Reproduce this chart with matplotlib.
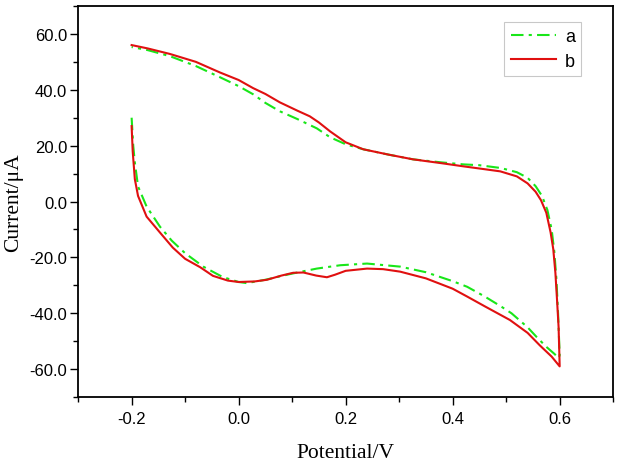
import matplotlib
matplotlib.use("Agg")
import matplotlib.pyplot as plt
from matplotlib.ticker import MultipleLocator, FormatStrFormatter

# Curve a (green, dash-dot): lower branch -0.2 -> 0.6, then upper branch 0.6 -> -0.2
a_potential = [-0.2, -0.197, -0.194, -0.188, -0.172, -0.147, -0.125, -0.1, -0.066, -0.03,
               0.0, 0.015, 0.05, 0.09, 0.12, 0.146, 0.19, 0.24, 0.302, 0.35, 0.4, 0.427,
               0.46, 0.49, 0.51, 0.54, 0.557, 0.575, 0.59, 0.598,
               0.6, 0.597, 0.594, 0.59, 0.585, 0.577, 0.567, 0.555, 0.54, 0.52, 0.49, 0.45,
               0.42, 0.38, 0.326, 0.28, 0.233, 0.2, 0.171, 0.146, 0.11, 0.077, 0.05, 0.027,
               0.0, -0.035, -0.08, -0.128, -0.17, -0.2]
a_current = [30, 20, 14, 5.4, -1.8, -9, -14, -18.5, -23.3, -27,
             -28.8, -29.2, -28, -26.2, -25, -24, -22.8, -22.2, -23.3, -25.3, -28.5, -30.5,
             -34, -37.5, -40, -45, -48.5, -52, -54.5, -56,
             -55, -40, -28, -18, -10, -3, 2, 5.5, 8.5, 10.5, 12, 13,
             13.3, 14, 15.1, 16.8, 18.7, 20.5, 23, 26.2, 29.5, 32.3, 35.3, 38.4,
             41.3, 44.5, 48.5, 52, 54.2, 55.3]

# Curve b (red, solid)
b_potential = [-0.2, -0.198, -0.194, -0.188, -0.172, -0.147, -0.123, -0.1, -0.072, -0.048,
               -0.02, 0.0, 0.03, 0.053, 0.08, 0.102, 0.121, 0.145, 0.165, 0.18, 0.2, 0.24,
               0.27, 0.302, 0.35, 0.4, 0.427, 0.46, 0.507, 0.54, 0.563, 0.585, 0.6,
               0.598, 0.595, 0.592, 0.588, 0.583, 0.575, 0.565, 0.555, 0.54, 0.52, 0.489,
               0.451, 0.42, 0.38, 0.326, 0.28, 0.233, 0.2, 0.171, 0.15, 0.133, 0.11, 0.077,
               0.05, 0.027, 0.0, -0.035, -0.08, -0.128, -0.17, -0.2]
b_current = [27, 18, 8, 2, -5.4, -11.1, -16.5, -20.5, -23.5, -26.6,
             -28.3, -28.8, -28.6, -28, -26.5, -25.5, -25.4, -26.5, -27.1, -26.2, -24.8, -24,
             -24.2, -25.1, -27.5, -31.2, -34, -37.5, -42.4, -47, -51.5, -55.5, -59,
             -45, -35, -25.5, -17, -11, -4, 0.5, 3.5, 6.5, 9, 10.8,
             11.8, 12.6, 13.7, 15.1, 16.8, 18.7, 21.2, 25.1, 28.3, 30.5, 32.5, 35.5,
             38.5, 40.6, 43.5, 46.2, 50, 52.8, 54.8, 56]

labels = ["a", "b"]
x_label = "Potential/V"
y_label = "Current/\u03bcA"

fig = plt.figure(figsize=(6.2, 4.64), dpi=100)
ax = fig.add_axes([0.126, 0.142, 0.863, 0.843])

ax.plot(a_potential, a_current, color="#19e619", lw=1.5,
        linestyle=(0, (6, 2.5, 1.5, 2.5)), label=labels[0])
ax.plot(b_potential, b_current, color="#e01010", lw=1.5, label=labels[1])

ax.set_xlim(-0.3, 0.7)
ax.set_ylim(-70, 70)
ax.xaxis.set_major_locator(MultipleLocator(0.2))
ax.xaxis.set_minor_locator(MultipleLocator(0.1))
ax.yaxis.set_major_locator(MultipleLocator(20))
ax.yaxis.set_minor_locator(MultipleLocator(10))
ax.xaxis.set_major_formatter(FormatStrFormatter("%.1f"))
ax.yaxis.set_major_formatter(FormatStrFormatter("%.1f"))

ax.tick_params(which="both", direction="out", top=False, right=False, width=1.0)
ax.tick_params(which="major", length=6)
ax.tick_params(which="minor", length=3.5)
ax.tick_params(axis="x", which="major", pad=4)
ax.tick_params(axis="y", which="major", pad=2)
for lab in ax.get_xticklabels() + ax.get_yticklabels():
    lab.set_family("Liberation Sans")
    lab.set_fontsize(12)
for s in ax.spines.values():
    s.set_linewidth(1.3)

ax.set_xlabel(x_label, family="Liberation Serif", fontsize=15.5, labelpad=12)
ax.set_ylabel(y_label, family="Liberation Serif", fontsize=15.5, labelpad=4)

leg = ax.legend(loc="upper right", bbox_to_anchor=(0.940, 0.959), frameon=True,
                fancybox=False, edgecolor="#bbbbbb", handlelength=2.5,
                borderaxespad=0,
                prop={"family": "Liberation Sans", "size": 13},
                borderpad=0.35, labelspacing=0.4, handletextpad=0.5)
leg.get_frame().set_linewidth(0.8)

fig.savefig("out.png", dpi=100)
